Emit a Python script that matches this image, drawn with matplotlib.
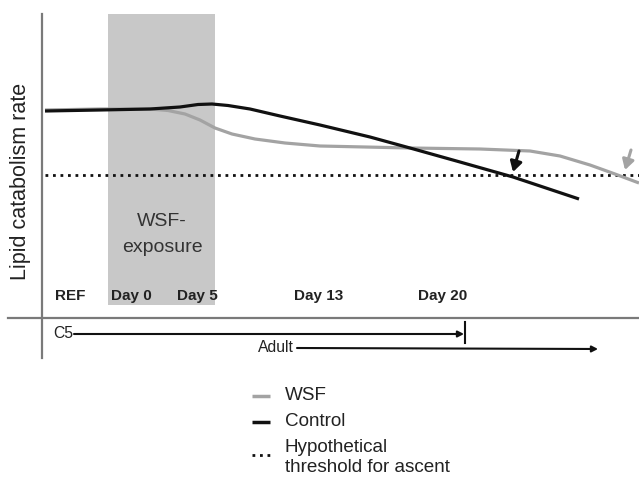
import matplotlib
matplotlib.use('Agg')
import matplotlib.pyplot as plt
from matplotlib.patches import Rectangle

plt.rcParams['font.family'] = ['Liberation Sans', 'DejaVu Sans']

#=========================================
# Datos (coordenadas del esquema, en px)
#=========================================
control_x = [45, 100, 150, 180, 198, 212, 228, 250, 280, 320, 370, 410, 460, 513, 579]
control_y = [111, 110, 109, 107, 104.5, 104, 105.5, 109, 116, 125, 137, 148, 162, 177, 199]

wsf_x = [45, 100, 150, 168, 185, 200, 215, 232, 255, 285, 320, 410, 480, 530, 560, 590, 615, 639]
wsf_y = [110, 109, 109, 110.5, 114, 120, 128, 134, 139, 143, 146, 148, 149, 151, 156, 165, 174, 183]

umbral_x = [45, 639]
umbral_y = [175, 175]

dias = ['REF', 'Day 0', 'Day 5', 'Day 13', 'Day 20']
dias_x = [70, 131, 197, 319, 443]

exposicion = (108, 215)   # inicio / fin de la exposicion WSF
c5_fin = 465
adulto_ini, adulto_fin = 297, 598

#===================
# Figura
#===================
fig = plt.figure(figsize=(6.39, 4.78), dpi=100)
ax = fig.add_axes([0, 0, 1, 1])
ax.set_xlim(0, 639)
ax.set_ylim(478, 0)
ax.axis('off')

txt = '#222222'

# zona sombreada
ax.add_patch(Rectangle((exposicion[0], 14), exposicion[1] - exposicion[0], 291,
                       facecolor='#c8c8c8', edgecolor='none', zorder=0))

# ejes
ax.plot([42, 42], [14, 358], color='#7a7a7a', lw=1.6, zorder=1)
ax.plot([8, 639], [318, 318], color='#7a7a7a', lw=1.6, zorder=1)

# curvas
ax.plot(umbral_x, umbral_y, color='#111111', lw=2.0, linestyle=(0, (1, 1.7)),
        dash_capstyle='butt', zorder=2)
ax.plot(wsf_x, wsf_y, color='#a3a3a3', lw=2.3, solid_capstyle='butt', zorder=3)
ax.plot(control_x, control_y, color='#111111', lw=2.3, solid_capstyle='butt', zorder=4)

# flechas de cruce con el umbral
ax.annotate('', xy=(513, 172), xytext=(519, 151),
            arrowprops=dict(arrowstyle='-|>,head_length=0.6,head_width=0.35',
                            color='#111111', lw=2.2, shrinkA=0, shrinkB=0))
ax.annotate('', xy=(625, 170), xytext=(631, 150),
            arrowprops=dict(arrowstyle='-|>,head_length=0.6,head_width=0.35',
                            color='#a3a3a3', lw=2.2, shrinkA=0, shrinkB=0))

# textos
ax.text(21, 181, 'Lipid catabolism rate', rotation=90, ha='center', va='center',
        fontsize=15.5, color=txt)
ax.text(162, 221, 'WSF-', ha='center', va='center', fontsize=14, color='#333333')
ax.text(162, 247, 'exposure', ha='center', va='center', fontsize=14, color='#333333')

for d, x in zip(dias, dias_x):
    ax.text(x, 296, d, ha='center', va='center', fontsize=11, fontweight='bold', color=txt)

# linea de estadios
ax.text(53, 334, 'C5', ha='left', va='center', fontsize=11.3, color=txt)
ax.annotate('', xy=(c5_fin - 1, 334), xytext=(74, 334),
            arrowprops=dict(arrowstyle='-|>,head_length=0.35,head_width=0.18',
                            color='#111111', lw=1.5, shrinkA=0, shrinkB=0))
ax.plot([c5_fin, c5_fin], [322, 343], color='#111111', lw=1.5)
ax.text(adulto_ini - 3, 347, 'Adult', ha='right', va='center', fontsize=11.3, color=txt)
ax.annotate('', xy=(adulto_fin, 349), xytext=(adulto_ini, 348),
            arrowprops=dict(arrowstyle='-|>,head_length=0.35,head_width=0.18',
                            color='#111111', lw=1.5, shrinkA=0, shrinkB=0))

# leyenda
ax.plot([252, 270], [396, 396], color='#a3a3a3', lw=2.5, solid_capstyle='butt')
ax.text(285, 396, 'WSF', ha='left', va='center', fontsize=13.6, color=txt)
ax.plot([252, 270], [422, 422], color='#111111', lw=2.5, solid_capstyle='butt')
ax.text(285, 422, 'Control', ha='left', va='center', fontsize=13.6, color=txt)
ax.plot([252, 270], [455, 455], color='#111111', lw=2.0, linestyle=(0, (1, 1.7)),
        dash_capstyle='butt')
ax.text(285, 447, 'Hypothetical', ha='left', va='center', fontsize=13.6, color=txt)
ax.text(285, 468, 'threshold for ascent', ha='left', va='center', fontsize=13.6, color=txt)

fig.savefig('out.png', dpi=100)
